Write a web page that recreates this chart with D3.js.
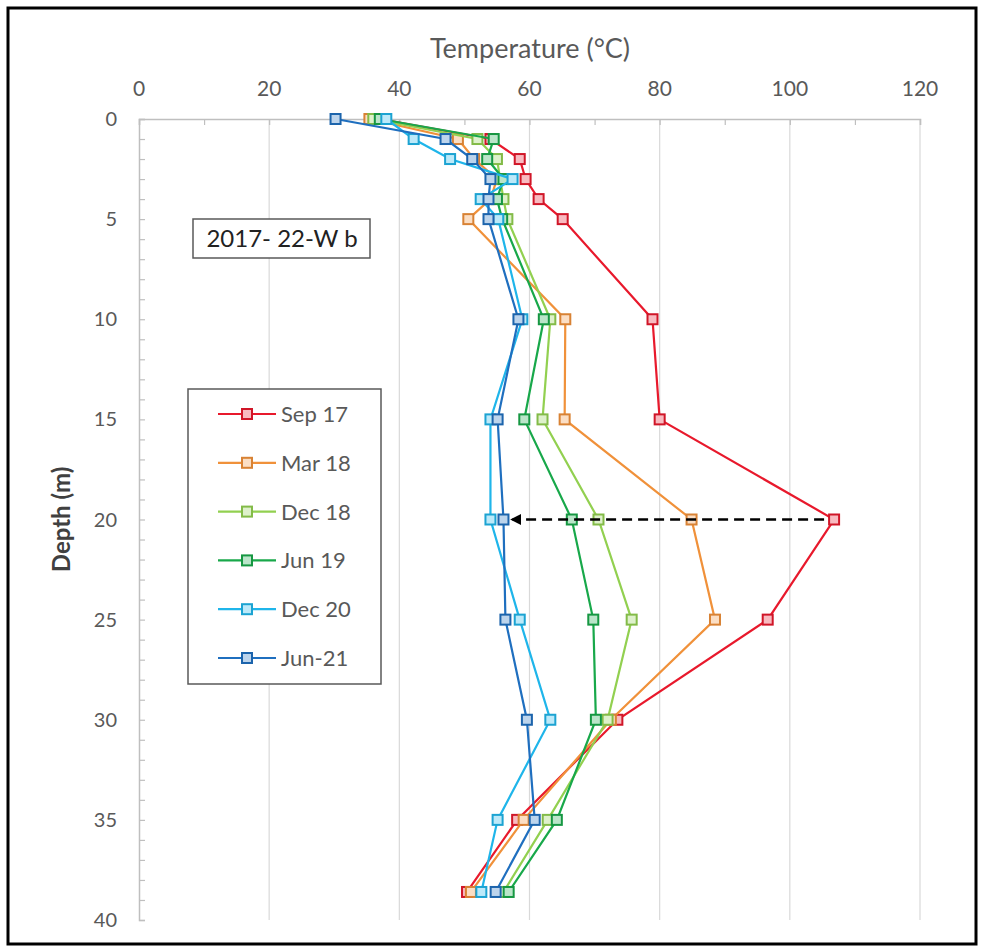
<!DOCTYPE html>
<html><head><meta charset="utf-8">
<script src="https://cdn.jsdelivr.net/npm/d3@7/dist/d3.min.js"></script>
<style>
html,body{margin:0;padding:0;background:#fff;}
svg{display:block;font-family:Lato,"Open Sans",sans-serif;}
</style></head>
<body>
<svg id="chart" width="984" height="951"></svg>
<script>
const depths = [0, 1, 2, 3, 4, 5, 10, 15, 20, 25, 30, 35, 38.6];
const seriesNames = ["Sep 17", "Mar 18", "Dec 18", "Jun 19", "Dec 20", "Jun-21"];
const sep17 = [37, 54, 58.5, 59.4, 61.4, 65.1, 78.9, 80, 106.8, 96.6, 73.5, 58.1, 50.4];
const mar18 = [35.4, 49, 51.5, 55, 54, 50.6, 65.5, 65.4, 84.9, 88.5, 72.5, 59.1, 51];
const dec18 = [36, 52, 55, 55.5, 56, 56.6, 63.2, 62, 70.6, 75.7, 72, 62.8, 56];
const jun19 = [37, 54.5, 53.5, 56, 55, 55.8, 62.2, 59.2, 66.5, 69.8, 70.2, 64.2, 56.8];
const dec20 = [38, 42.2, 47.8, 57.4, 52.5, 55.2, 58.9, 54, 54, 58.5, 63.2, 55.1, 52.6];
const jun21 = [30.2, 47.1, 51.2, 54, 53.7, 53.7, 58.3, 55.1, 56, 56.3, 59.6, 60.8, 54.8];
const seriesColors = ["#e8192c", "#f0913a", "#92d050", "#18a84a", "#1fb5ea", "#1f6fbf"];
const xTicks = [0, 20, 40, 60, 80, 100, 120];
const yTicks = [0, 5, 10, 15, 20, 25, 30, 35, 40];
const arrowFrom = {temp: 106.8, depth: 20};
const arrowTo = {temp: 56, depth: 20};
const boxLabel = "2017- 22-W b";

const allSeries = [sep17, mar18, dec18, jun19, dec20, jun21];

const svg = d3.select("#chart");
const x = d3.scaleLinear().domain([0, 120]).range([139, 920]);
const y = d3.scaleLinear().domain([0, 40]).range([119, 920]);

// outer frame
svg.append("rect").attr("x", 8).attr("y", 8).attr("width", 968).attr("height", 936)
  .attr("fill", "#fff").attr("stroke", "#000").attr("stroke-width", 3);

// vertical gridlines
svg.append("g").selectAll("line").data(xTicks.filter(d => d > 0)).join("line")
  .attr("x1", d => x(d)).attr("x2", d => x(d)).attr("y1", y(0)).attr("y2", y(40))
  .attr("stroke", "#d9d9d9").attr("stroke-width", 1.2);

// top axis
const xAxis = d3.axisTop(x).tickValues(d3.range(0, 121, 10)).tickSize(-6).tickFormat("");
const gx = svg.append("g").attr("transform", `translate(0,${y(0)})`).call(xAxis);
gx.select(".domain").attr("stroke", "#bfbfbf").attr("stroke-width", 1.5);
gx.selectAll(".tick line").attr("stroke", "#bfbfbf").attr("stroke-width", 1.2);
svg.append("g").selectAll("text").data(xTicks).join("text")
  .attr("x", d => x(d)).attr("y", 96).attr("text-anchor", "middle")
  .attr("font-size", 21).attr("fill", "#595959").text(d => d);

// left axis
const yAxis = d3.axisLeft(y).tickValues(d3.range(0, 41, 1)).tickSize(-6).tickFormat("");
const gy = svg.append("g").attr("transform", `translate(${x(0)},0)`).call(yAxis);
gy.select(".domain").attr("stroke", "#bfbfbf").attr("stroke-width", 1.5);
gy.selectAll(".tick line").attr("stroke", "#bfbfbf").attr("stroke-width", 1.2);
svg.append("g").selectAll("text").data(yTicks).join("text")
  .attr("x", 117).attr("y", d => y(d) + 7).attr("text-anchor", "end")
  .attr("font-size", 20).attr("fill", "#595959").text(d => d);

// axis titles
svg.append("text").attr("x", 530).attr("y", 58).attr("text-anchor", "middle")
  .attr("font-size", 27).attr("fill", "#595959").text("Temperature (°C)");
svg.append("text").attr("transform", `translate(70,${y(20)}) rotate(-90)`)
  .attr("text-anchor", "middle").attr("font-size", 24).attr("font-weight", "bold")
  .attr("fill", "#404040").text("Depth (m)");

// series
const line = d3.line().x(d => x(d.t)).y(d => y(d.d));
const ms = 10;
allSeries.forEach((vals, i) => {
  const pts = vals.map((t, k) => ({t, d: depths[k]}));
  const c = seriesColors[i];
  const fillC = d3.interpolateRgb(c, "#ffffff")(0.7);
  const g = svg.append("g");
  g.append("path").datum(pts).attr("d", line).attr("fill", "none")
    .attr("stroke", c).attr("stroke-width", 2.2);
  g.selectAll("rect").data(pts).join("rect")
    .attr("x", d => x(d.t) - ms / 2).attr("y", d => y(d.d) - ms / 2)
    .attr("width", ms).attr("height", ms)
    .attr("fill", fillC).attr("stroke", d3.color(c).darker(0.3)).attr("stroke-width", 2);
});

// dashed arrow
const defs = svg.append("defs");
defs.append("marker").attr("id", "ah").attr("viewBox", "0 0 10 10")
  .attr("refX", 8).attr("refY", 5).attr("markerWidth", 4.5).attr("markerHeight", 4.5)
  .attr("orient", "auto").attr("markerUnits", "strokeWidth")
  .append("path").attr("d", "M0,0 L10,5 L0,10 Z").attr("fill", "#000");
svg.append("line")
  .attr("x1", x(arrowFrom.temp) - 10).attr("y1", y(arrowFrom.depth))
  .attr("x2", x(arrowTo.temp) + 9).attr("y2", y(arrowTo.depth))
  .attr("stroke", "#000").attr("stroke-width", 2.5).attr("stroke-dasharray", "10,6")
  .attr("marker-end", "url(#ah)");

// label box
svg.append("rect").attr("x", 193).attr("y", 219).attr("width", 177).attr("height", 39)
  .attr("fill", "#fff").attr("stroke", "#595959").attr("stroke-width", 1.5);
svg.append("text").attr("x", 282).attr("y", 247).attr("text-anchor", "middle")
  .attr("font-size", 24).attr("fill", "#222").text(boxLabel);

// legend
const lg = svg.append("g");
lg.append("rect").attr("x", 188).attr("y", 389).attr("width", 193).attr("height", 295)
  .attr("fill", "#fff").attr("stroke", "#595959").attr("stroke-width", 1.5);
seriesNames.forEach((name, i) => {
  const cy = 414 + i * 48.8;
  const c = seriesColors[i];
  lg.append("line").attr("x1", 218).attr("x2", 276).attr("y1", cy).attr("y2", cy)
    .attr("stroke", c).attr("stroke-width", 2.2);
  lg.append("rect").attr("x", 247 - ms / 2).attr("y", cy - ms / 2).attr("width", ms).attr("height", ms)
    .attr("fill", d3.interpolateRgb(c, "#ffffff")(0.7)).attr("stroke", d3.color(c).darker(0.3)).attr("stroke-width", 2);
  lg.append("text").attr("x", 281).attr("y", cy + 8).attr("font-size", 22)
    .attr("fill", "#595959").text(name);
});
</script>
</body></html>
